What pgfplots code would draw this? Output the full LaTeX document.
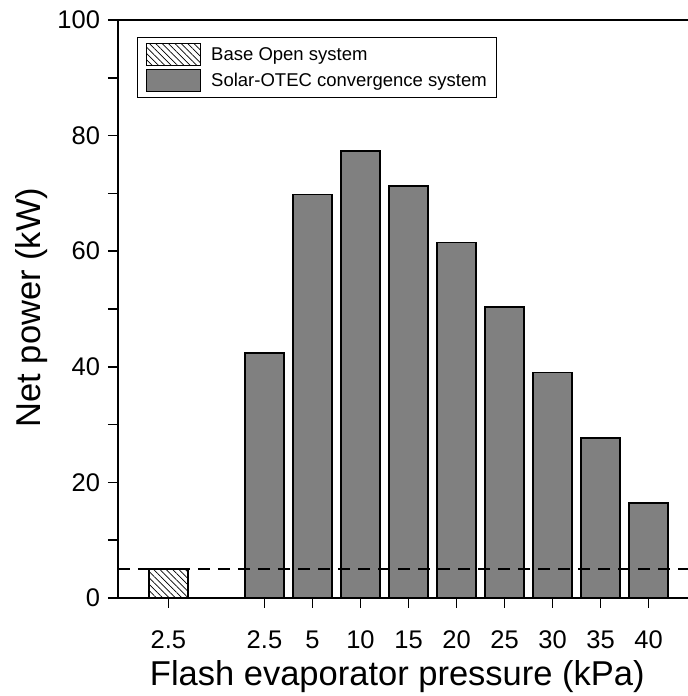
\documentclass[border=0pt]{standalone}
\usepackage{pgfplots}
\pgfplotsset{compat=1.18}
\usepackage{fontspec}
\setmainfont{Liberation Sans}
\usetikzlibrary{patterns,patterns.meta}
\begin{document}
\begin{tikzpicture}
\begin{axis}[
  scale only axis,
  width=570bp, height=578bp,
  xmin=-1.05, xmax=10.82,
  ymin=0, ymax=100,
  axis x line*=box,
  axis y line*=left,
  axis line style={line width=1.8bp},
  xtick={0,2,3,4,5,6,7,8,9,10},
  xticklabels={2.5,2.5,5,10,15,20,25,30,35,40},
  xtick pos=bottom,
  ytick={0,20,40,60,80,100},
  minor y tick num=1,
  ytick pos=left,
  tick align=outside,
  major tick length=10bp,
  minor tick length=10bp,
  every tick/.style={black, line width=1.5bp},
  /pgf/number format/assume math mode=true,
  ticklabel style={font=\fontsize{25.5bp}{28bp}\selectfont},
  xticklabel style={anchor=base, yshift=-40bp},
  yticklabel style={xshift=-4.5bp},
  xlabel={Flash evaporator pressure (kPa)},
  ylabel={Net power (kW)},
  xlabel style={font=\fontsize{34.5bp}{36bp}\selectfont, at={(axis description cs:0.49,-0.152)}, anchor=base},
  ylabel style={font=\fontsize{34.5bp}{36bp}\selectfont, at={(axis description cs:-0.152,0.5026)}, anchor=center},
  legend cell align=left,
  legend style={at={(0.0333,0.9706)}, anchor=north west, draw=black, line width=1.3bp,
    font=\fontsize{18.5bp}{20bp}\selectfont, row sep=3bp, inner xsep=8bp, inner ysep=5bp},
  legend image code/.code={\draw[#1, line width=1.4bp] (0bp,-11bp) rectangle (54bp,11bp); \path (62bp,0bp);},
]
\coordinate (bl) at (rel axis cs:0,0);
\addplot[ybar, bar width=0.81, draw=black, line width=1.8bp, pattern={Lines[angle=-45, distance=4.5bp, line width=0.7bp]}] coordinates {(0,5)};
\addlegendentry{Base Open system}
\addplot[ybar, bar width=0.81, draw=black, line width=1.8bp, fill=gray] coordinates {
(2,42.4) (3,69.8) (4,77.4) (5,71.3) (6,61.5) (7,50.3) (8,39.0) (9,27.7) (10,16.4)};
\addlegendentry{Solar-OTEC convergence system}
\addplot[black, line width=1.6bp, dash pattern=on 12bp off 8bp, forget plot] coordinates {(-1.05,5) (10.82,5)};
\end{axis}
\pgfresetboundingbox
\path[use as bounding box] ([shift={(-118bp,-98bp)}]bl) rectangle ([shift={(570bp,598bp)}]bl);
\end{tikzpicture}
\end{document}
